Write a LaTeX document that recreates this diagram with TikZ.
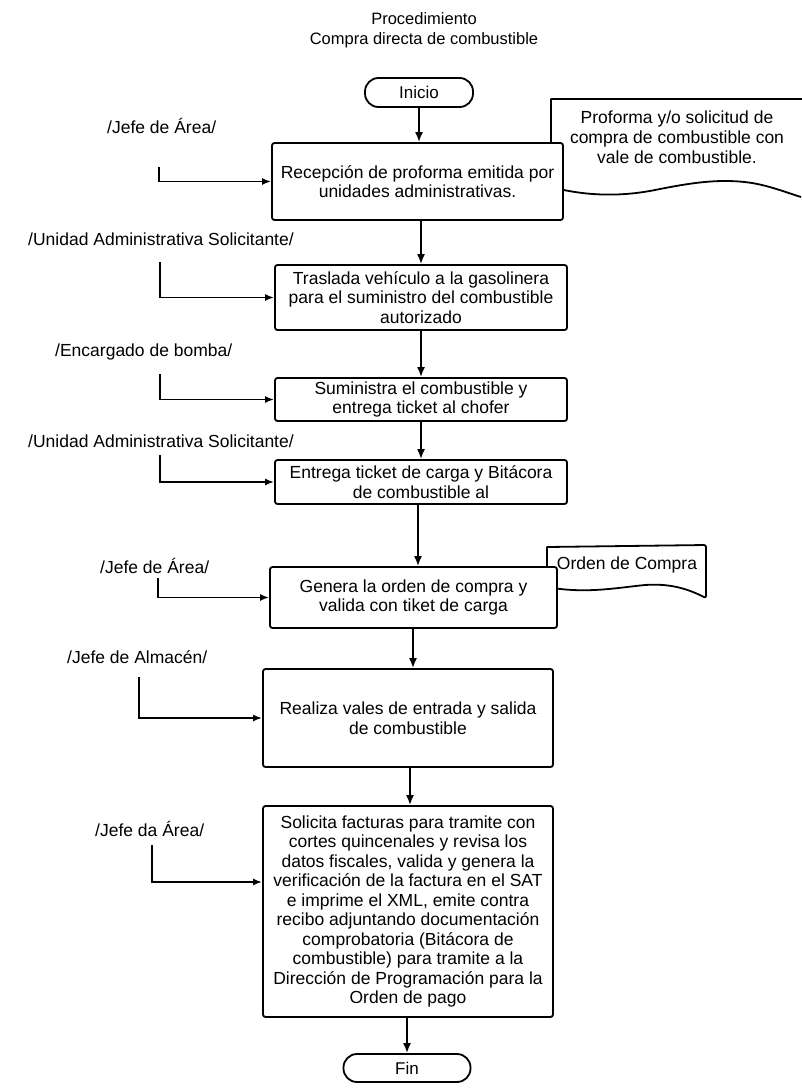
\documentclass[tikz,border=0pt]{standalone}
\usepackage{fontspec}
\setmainfont{Liberation Sans}
\usetikzlibrary{arrows.meta}
\begin{document}
\begin{tikzpicture}[x=1pt,y=-1pt,
  proc/.style={draw, line width=1.8pt, rounded corners=2.5pt, fill=white, align=center, inner sep=0pt, font=\fontsize{17.5}{19.5}\selectfont},
  term/.style={draw, line width=1.8pt, rounded corners=13.5pt, fill=white, align=center, inner sep=0pt, font=\fontsize{17}{20}\selectfont},
  lbl/.style={anchor=west, inner sep=0pt, font=\fontsize{17.5}{20}\selectfont},
  ttl/.style={inner sep=0pt, font=\fontsize{16.5}{20}\selectfont},
  doctxt/.style={align=center, inner sep=0pt, font=\fontsize{17.5}{20}\selectfont},
  arr/.style={line width=1.8pt, -{Latex[length=10pt,width=8pt]}},
  conn/.style={line width=1.8pt, -{Latex[length=9pt,width=7pt]}},
  docline/.style={line width=1.8pt, line join=round}
]
\fill[white] (0,0) rectangle (801,1090);
\useasboundingbox (0,0) rectangle (801,1090);

% title
\node[ttl] (t1) at (424,19) {Procedimiento};
\node[ttl] (t2) at (424,40) {Compra directa de combustible};

% documents (behind boxes)
\draw[docline] (801,197)
  .. controls (785,192) and (770,186) .. (752,183)
  .. controls (720,178) and (690,183) .. (655,190)
  .. controls (620,197) and (585,196) .. (551,187)
  -- (551,99) -- (802,99);
\node[doctxt] (d1) at (677,137) {Proforma y/o solicitud de\\compra de combustible con\\vale de combustible.};

\draw[docline] (547,587) -- (547,547) [rounded corners=2pt] -- (706,545) -- (706,598)
  [sharp corners] .. controls (690,590) and (672,583) .. (645,585)
  .. controls (615,588) and (585,594) .. (547,587);
\node[doctxt] (d2) at (627,565) {Orden de Compra};

% terminals
\node[term, minimum width=108pt, minimum height=29pt] (ini) at (419,92.5) {Inicio};
\node[term, minimum width=127pt, minimum height=28pt] (fin) at (407,1068) {Fin};

% process boxes
\node[proc, minimum width=291pt, minimum height=77pt] (b1) at (417.5,181.5) {Recepción de proforma emitida por\\unidades administrativas.};
\node[proc, minimum width=292pt, minimum height=65pt] (b2) at (421,297.5) {Traslada vehículo a la gasolinera\\para el suministro del combustible\\autorizado};
\node[proc, minimum width=292pt, minimum height=43pt] (b3) at (421,399.5) {Suministra el combustible y\\entrega ticket al chofer};
\node[proc, minimum width=292pt, minimum height=44pt] (b4) at (421,482) {Entrega ticket de carga y Bitácora\\de combustible al};
\node[proc, minimum width=287pt, minimum height=61pt] (b5) at (413.5,597.5) {Genera la orden de compra y\\valida con tiket de carga};
\node[proc, minimum width=290pt, minimum height=98pt] (b6) at (408,718) {Realiza vales de entrada y salida\\de combustible};
\node[proc, minimum width=290pt, minimum height=211pt] (b7) at (408,911.5) {Solicita facturas para tramite con\\cortes quincenales y revisa los\\datos fiscales, valida y genera la\\verificación de la factura en el SAT\\e imprime el XML, emite contra\\recibo adjuntando documentación\\comprobatoria (Bitácora de\\combustible) para tramite a la\\Dirección de Programación para la\\Orden de pago};

% role labels
\node[lbl] (l1) at (107,126) {/Jefe de Área/};
\node[lbl] (l2) at (28,239) {/Unidad Administrativa Solicitante/};
\node[lbl] (l3) at (55,352) {/Encargado de bomba/};
\node[lbl] (l4) at (28,441) {/Unidad Administrativa Solicitante/};
\node[lbl] (l5) at (100,566) {/Jefe de Área/};
\node[lbl] (l6) at (67,657) {/Jefe de Almacén/};
\node[lbl] (l7) at (95,829) {/Jefe da Área/};

% connector starts
\coordinate (s1) at (159,167);
\coordinate (s2) at (160,262);
\coordinate (s3) at (160,374);
\coordinate (s4) at (160,455);
\coordinate (s5) at (158,578);
\coordinate (s6) at (139,677);
\coordinate (s7) at (152,845);

\draw[conn] (s1) |- (b1.west);
\draw[conn] (s2) |- (b2.west);
\draw[conn] (s3) |- (b3.west);
\draw[conn] (s4) |- (b4.west);
\draw[conn] (s5) |- (b5.west);
\draw[conn] (s6) |- (b6.west);
\draw[conn] (s7) |- (b7.west |- 0,882);

% flow arrows
\draw[arr] (ini.south) -- (ini.south |- b1.north);
\draw[arr] (b1.south -| b2.north) -- (b2.north);
\draw[arr] (b2.south) -- (b3.north);
\draw[arr] (b3.south) -- (b4.north);
\draw[arr] (b4.south -| 418,0) -- (b5.north -| 418,0);
\draw[arr] (b5.south -| 413,0) -- (b6.north -| 413,0);
\draw[arr] (b6.south -| 410,0) -- (b7.north -| 410,0);
\draw[arr] (b7.south -| fin.north) -- (fin.north);
\end{tikzpicture}
\end{document}
